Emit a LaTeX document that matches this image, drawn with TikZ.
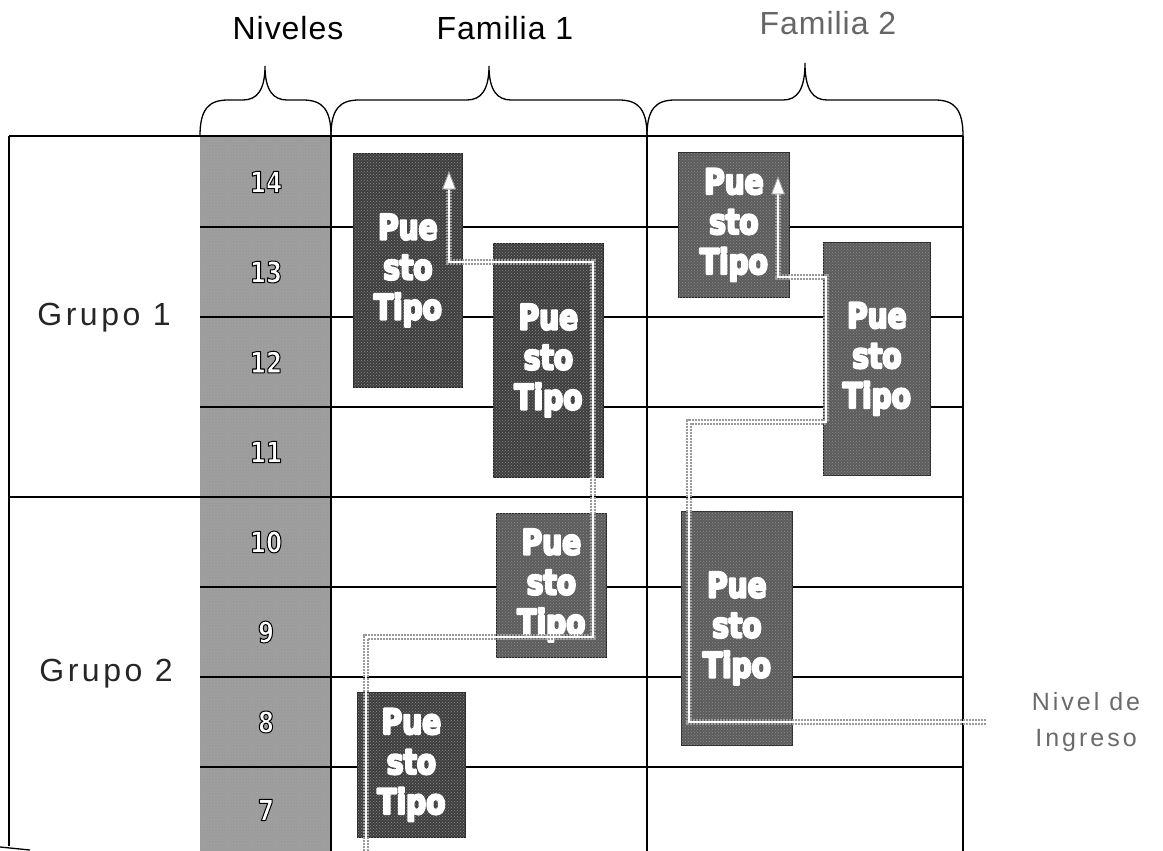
\documentclass[tikz,border=0pt]{standalone}
\usepackage{fontspec}
\setmainfont{Liberation Sans}
\newfontfamily\sfA[LetterSpace=3]{Liberation Sans}
\newfontfamily\sfB[LetterSpace=11]{Liberation Sans}
\newfontfamily\sfC[LetterSpace=12]{Liberation Sans}
\newfontfamily\sfBox[FakeStretch=0.8]{DejaVu Sans Bold}
\usetikzlibrary{patterns}
\definecolor{lvlgray}{HTML}{9C9C9C}
\definecolor{darkbox}{HTML}{3E3E3E}
\definecolor{midbox}{HTML}{5C5C5C}
\definecolor{pathgray}{HTML}{9A9A9A}
\definecolor{txtgray}{HTML}{6A6A6A}
\newcommand\outlined[1]{\special{pdf:literal direct 2 Tr 1.0 w 1 j 0 G}#1\special{pdf:literal direct 0 Tr}}
\newcommand\heavy[1]{\special{pdf:literal direct 2 Tr 2.2 w 1 j 1 G}#1\special{pdf:literal direct 0 Tr}}
\begin{document}
\begin{tikzpicture}[x=1pt,y=-1pt,
  grid/.style={line width=1.3pt, black},
  brace/.style={line width=1.3pt, black},
  title/.style={font=\sfA\fontsize{32}{36}\selectfont, inner sep=0},
  grp/.style={font=\sfB\fontsize{32}{36}\selectfont, inner sep=0, text=black!85},
  ingreso/.style={font=\sfC\fontsize{25}{36}\selectfont, inner sep=0, text=txtgray, align=center},
  pbox/.style={draw=black!85, line width=0.8pt, inner sep=0, anchor=north west},
  boxtxt/.style={font=\sfBox\fontsize{35}{40}\selectfont, align=center, inner sep=0, text=white},
  numtxt/.style={font=\sfBox\fontsize{29}{30}\selectfont, inner sep=0, text=white},
  pathout/.style={line width=5.5pt, draw=pathgray, dash pattern=on 2pt off 1pt},
  pathin/.style={line width=2.6pt, draw=white},
  tipstyle/.style={draw=pathgray, fill=white, line width=0.9pt, line join=miter}]
\useasboundingbox (0,0) rectangle (1163,851);

% niveles column
\fill[lvlgray] (200,136) rectangle (331,851);
\fill[pattern=crosshatch dots, pattern color=black!35] (200,136) rectangle (331,851);

% grid
\draw[grid] (9,136) -- (963,136);
\draw[grid] (9,136) -- (9,846);
\draw[grid] (0,847) -- (30,850);
\draw[grid] (331,136) -- (331,851);
\draw[grid] (647,136) -- (647,851);
\draw[grid] (963,136) -- (963,851);
\foreach \y in {227,317,407,587,677,767}{\draw[grid] (200,\y) -- (963,\y);}
\draw[grid] (9,497) -- (963,497);

% braces
\foreach \xa/\xm/\xb/\yt in {200/265/331/66, 331/489/647/66, 647/805/963/63}{
  \draw[brace] (\xa,136) .. controls (\xa,110) and (\xa+8,100) .. (\xa+28,100)
    -- (\xm-22,100) .. controls (\xm-8,100) and (\xm,90) .. (\xm,\yt)
    .. controls (\xm,90) and (\xm+8,100) .. (\xm+22,100)
    -- (\xb-28,100) .. controls (\xb-8,100) and (\xb,110) .. (\xb,136);
}

% titles
\node[title] (niv) at (288,28) {Niveles};
\node[title] (fam1) at (505,28) {Familia 1};
\node[title, text=black!60] (fam2) at (828,23) {Familia 2};
\node[grp] (g1) at (104,318) {Grupo 1};
\node[grp] (g2) at (106,674) {Grupo 2};
\node[ingreso] (ing1) at (1086,702) {Nivel de};
\node[ingreso] (ing2) at (1086,740) {Ingreso};

% level numbers
\foreach \n/\y in {14/182,13/272,12/362,11/452,10/542,9/632,8/722,7/810}{
  \node[numtxt] (lv\n) at (266,\y) {\outlined{\n}};
}

% puesto tipo boxes
\node[pbox, fill=darkbox, minimum width=109pt, minimum height=234pt] (fa) at (353,153) {};
\node[pbox, fill=darkbox, minimum width=110pt, minimum height=234pt] (fb) at (493,243) {};
\node[pbox, fill=midbox, minimum width=110pt, minimum height=144pt] (fc) at (496,513) {};
\node[pbox, fill=darkbox, minimum width=108pt, minimum height=145pt] (fd) at (357,692) {};
\node[pbox, fill=midbox, minimum width=111pt, minimum height=145pt] (ga) at (678,152) {};
\node[pbox, fill=midbox, minimum width=107pt, minimum height=233pt] (gb) at (823,242) {};
\node[pbox, fill=midbox, minimum width=111pt, minimum height=234pt] (gc) at (681,511) {};
\foreach \b in {fa,fb,fc,fd,ga,gb,gc}{
  \fill[pattern=crosshatch dots, pattern color=black!45] (\b.north west) rectangle (\b.south east);
  \node[boxtxt] (t\b) at (\b.center) {\heavy{Pue\\sto\\Tipo}};
}

% career path, familia 1
\coordinate (a1) at (366,851);
\coordinate (a2) at (366,637);
\coordinate (a3) at (593,637);
\coordinate (a4) at (593,262);
\coordinate (a5) at (449,262);
\coordinate (a6) at (449,188);
\coordinate (atip) at (449,172);
\draw[pathout] (a1) -- (a2) -- (a3) -- (a4) -- (a5) -- (a6);
\draw[pathin] (a1) -- (a2) -- (a3) -- (a4) -- (a5) -- (a6);
\draw[tipstyle] (atip) -- ([shift={(-6.5,17)}]atip) -- ([shift={(6.5,17)}]atip) -- cycle;

% career path, familia 2
\coordinate (b1) at (986,722);
\coordinate (b2) at (689,722);
\coordinate (b3) at (689,422);
\coordinate (b4) at (826,422);
\coordinate (b5) at (826,277);
\coordinate (b6) at (778,277);
\coordinate (b7) at (778,193);
\coordinate (btip) at (778,177);
\draw[pathout] (b1) -- (b2) -- (b3) -- (b4) -- (b5) -- (b6) -- (b7);
\draw[pathin] (b1) -- (b2) -- (b3) -- (b4) -- (b5) -- (b6) -- (b7);
\draw[tipstyle] (btip) -- ([shift={(-6.5,17)}]btip) -- ([shift={(6.5,17)}]btip) -- cycle;
\end{tikzpicture}
\end{document}
